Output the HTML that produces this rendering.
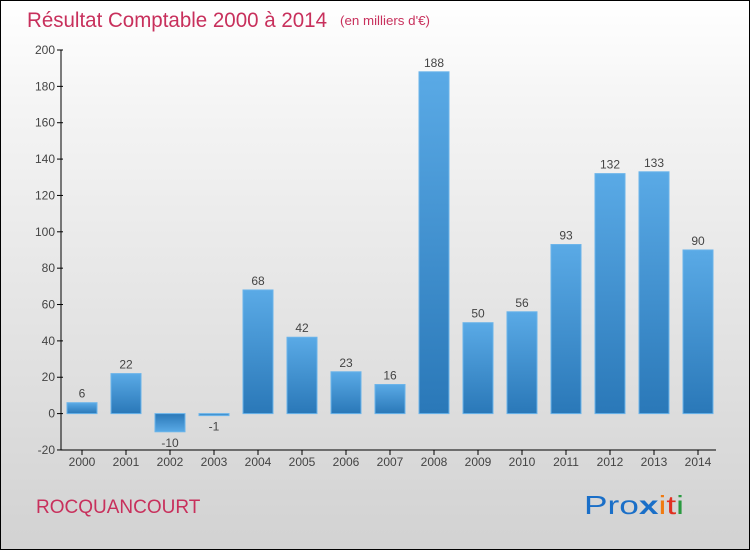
<!DOCTYPE html>
<html><head><meta charset="utf-8"><style>
html,body{margin:0;padding:0}
body{width:750px;height:550px;overflow:hidden;font-family:"Liberation Sans",sans-serif}
#wrap{position:absolute;left:0;top:0;width:748px;height:548px;border:1px solid #000;background:linear-gradient(#ffffff,#f4f4f4 20%,#d2d2d2)}
</style></head><body>
<div id="wrap">
<svg id="chart" width="750" height="550" style="position:absolute;left:-1px;top:-1px">
<defs><linearGradient id="bg" x1="0" y1="0" x2="0" y2="1"><stop offset="0" stop-color="#5aaae6"/><stop offset="1" stop-color="#2a78b8"/></linearGradient>
<linearGradient id="bgn" x1="0" y1="0" x2="0" y2="1"><stop offset="0" stop-color="#2a78b8"/><stop offset="1" stop-color="#5aaae6"/></linearGradient></defs>
<text x="27" y="27" font-size="21" fill="#c8305c" textLength="300" lengthAdjust="spacingAndGlyphs">Résultat Comptable 2000 à 2014</text>
<text x="340" y="25" font-size="13" fill="#c8305c" textLength="90" lengthAdjust="spacingAndGlyphs">(en milliers d'€)</text>
<text x="36" y="513" font-size="19" fill="#c8305c">ROCQUANCOURT</text>
<text x="584" y="514" font-size="26" textLength="100" lengthAdjust="spacingAndGlyphs"><tspan fill="#1a6fc8">Pro</tspan><tspan fill="#1a6fc8" font-weight="bold">x</tspan><tspan fill="#f07a10">i</tspan><tspan fill="#e03020">t</tspan><tspan fill="#2a9a40">i</tspan></text>
</svg>
</div>
<script>
const years=["2000","2001","2002","2003","2004","2005","2006","2007","2008","2009","2010","2011","2012","2013","2014"];
const values=[6,22,-10,-1,68,42,23,16,188,50,56,93,132,133,90];
const yTicks=[-20,0,20,40,60,80,100,120,140,160,180,200];
const svg=document.getElementById('chart');
const NS='http://www.w3.org/2000/svg';
function y(v){return 413.6-v*1.818;}
function x(i){return 82+i*44;}
function mk(t,a){const e=document.createElementNS(NS,t);for(const k in a)e.setAttribute(k,a[k]);svg.appendChild(e);return e;}
let ax=mk('line',{x1:61,y1:50,x2:61,y2:450,stroke:'#000'});


let bx=mk('line',{x1:61,y1:450,x2:716,y2:450,stroke:'#000'});


yTicks.forEach(v=>{
 const t=mk('line',{x1:57,y1:y(v),x2:63,y2:y(v),stroke:'#000'});
 
 
 const l=mk('text',{x:55,y:y(v)+4,'font-size':12,'text-anchor':'end',fill:'#444'});
 l.textContent=v;
 
 
});
years.forEach((yr,i)=>{
 const t=mk('line',{x1:x(i),y1:450,x2:x(i),y2:455,stroke:'#000'});
 
 
 const l=mk('text',{x:x(i),y:466,'font-size':12,'text-anchor':'middle',fill:'#444'});
 l.textContent=yr;
 
 
 const v=values[i];
 const top=Math.min(y(v),y(0)),h=Math.max(Math.abs(y(v)-y(0)),2);
 const b=mk('rect',{x:x(i)-15,y:top,width:30,height:h,fill:v<0?'url(#bgn)':'url(#bg)',stroke:'#6ab4ea','stroke-width':1});
 
 
 const vl=mk('text',{x:x(i),y:v>=0?y(v)-5:top+h+15,'font-size':12,'text-anchor':'middle',fill:'#444'});
 vl.textContent=v<0?'-'+Math.abs(v):v;
 
 
});
</script>
</body></html>
